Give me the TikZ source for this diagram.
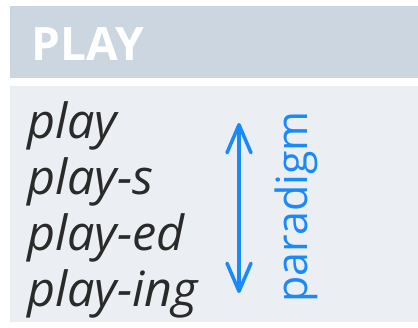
\documentclass[tikz,border=0pt]{standalone}
\usepackage{fontspec}
\setmainfont{Open Sans}
\usetikzlibrary{arrows.meta}
\definecolor{hdr}{HTML}{CCD6E0}
\definecolor{bodybg}{HTML}{EBEEF2}
\definecolor{txt}{HTML}{2A2A2A}
\definecolor{blu}{HTML}{1A8AFA}
\tikzset{
  band/.style={inner sep=0pt, anchor=north west, minimum width=408pt},
  word/.style={inner sep=0pt, anchor=base west, text=txt, font=\fontsize{48.5}{48.5}\selectfont\itshape},
  barb/.tip={Straight Barb[length=28pt,width=24pt,line cap=round,line join=round]}
}
\begin{document}
\begin{tikzpicture}[x=1pt,y=-1pt]
\useasboundingbox (0,0) rectangle (418,327);
\fill[white] (0,0) rectangle (418,327);
\node[band, fill=hdr, minimum height=72pt] (header) at (10,6) {};
\node[band, fill=bodybg, minimum height=236pt] (body) at (10,86) {};
\node[inner sep=0pt, anchor=base west, text=white, font=\fontsize{46}{46}\selectfont\bfseries] (title) at (31,60) {PLAY};
\node[word] (w1) at (27,138) {play};
\node[word] (w2) at (27,194) {play-s};
\node[word] (w3) at (27,250) {play-ed};
\node[word] (w4) at (27,306) {play-ing};
\coordinate (atop) at (239,123);
\coordinate (abot) at (239,293);
\draw[blu, line width=3.5pt, line cap=round, {barb}-{barb}] (atop) -- (abot);
\node[inner sep=0pt, rotate=90, text=blu, font=\fontsize{43}{43}\selectfont] (para) at (296,207) {paradigm};
\end{tikzpicture}
\end{document}
